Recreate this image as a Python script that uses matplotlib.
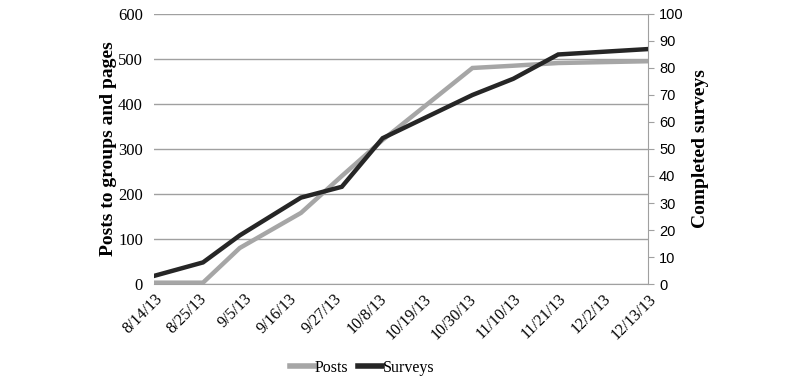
import matplotlib
matplotlib.use("Agg")
import matplotlib.pyplot as plt
import pandas as pd
import numpy as np
from matplotlib.lines import Line2D

dates = ["8/14/13", "8/26/13", "9/4/13", "9/19/13", "9/29/13", "10/9/13",
         "10/31/13", "11/10/13", "11/21/13", "12/13/13"]
posts = [3, 3, 80, 158, 240, 320, 480, 485, 491, 495]
surveys = [3, 8, 18, 32, 36, 54, 70, 76, 85, 87]
tick_dates = ["8/14/13", "8/25/13", "9/5/13", "9/16/13", "9/27/13", "10/8/13",
              "10/19/13", "10/30/13", "11/10/13", "11/21/13", "12/2/13", "12/13/13"]

start = pd.to_datetime("8/14/13", format="%m/%d/%y")
x = (pd.to_datetime(dates, format="%m/%d/%y") - start).days.values
tx = (pd.to_datetime(tick_dates, format="%m/%d/%y") - start).days.values

serif = "Liberation Serif"
sans = "Liberation Sans"
gray = "#a6a6a6"
dark = "#262626"
grid = "#a0a0a0"

fig = plt.figure(figsize=(8, 3.88), dpi=100)
ax = fig.add_axes([0.1925, 0.268, 0.6175, 0.696])
ax2 = ax.twinx()

ax.set_xlim(tx[0], tx[-1])
ax.set_ylim(0, 600)
ax2.set_ylim(0, 100)
ax.set_yticks(range(0, 601, 100))
ax2.set_yticks(range(0, 101, 10))
ax.yaxis.grid(True, color=grid, linewidth=1)
ax.set_axisbelow(True)

ax.plot(x, posts, color=gray, linewidth=3.2, solid_joinstyle="miter", zorder=3)
ax2.plot(x, surveys, color=dark, linewidth=3.2, solid_joinstyle="miter", zorder=4)

for a in (ax, ax2):
    for s in ("top", "left"):
        a.spines[s].set_visible(False)
ax.spines["right"].set_visible(False)
ax2.spines["right"].set_color(grid)
ax2.spines["bottom"].set_visible(False)
ax.spines["bottom"].set_color(grid)
ax2.spines["left"].set_visible(False)

ax.tick_params(axis="y", length=0, pad=8, labelsize=12)
ax.tick_params(axis="x", length=0, pad=5, labelsize=11.5)
ax2.tick_params(axis="y", length=4, color=grid, pad=4, labelsize=10.5)

ax.set_xticks(tx)
ax.set_xticklabels(tick_dates, rotation=45, ha="right", rotation_mode="anchor",
                   fontfamily=serif)
for lab in ax.get_yticklabels():
    lab.set_fontfamily(serif)
for lab in ax2.get_yticklabels():
    lab.set_fontfamily(sans)

ax.set_ylabel("Posts to groups and pages", fontfamily=serif, fontweight="bold",
              fontsize=14, labelpad=1)
ax2.set_ylabel("Completed surveys", fontfamily=serif, fontweight="bold",
               fontsize=14, labelpad=6)

handles = [Line2D([], [], color=gray, linewidth=4),
           Line2D([], [], color=dark, linewidth=4)]
fig.legend(handles, ["Posts", "Surveys"], loc="center", bbox_to_anchor=(0.4525, 0.052),
           ncol=2, frameon=False, handlelength=1.5, handletextpad=0.05,
           columnspacing=0.6, prop={"family": serif, "size": 11.5})

fig.savefig("out.png", dpi=100)
